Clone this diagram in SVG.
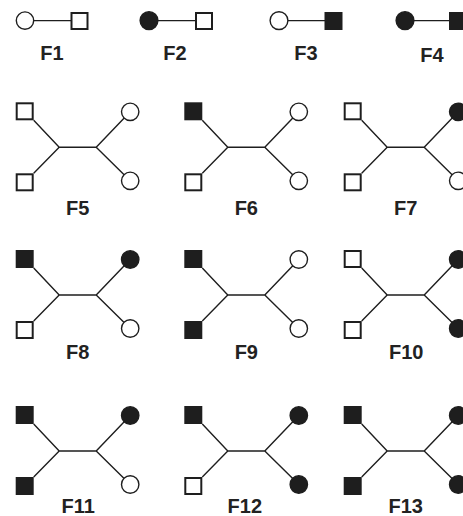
<svg xmlns="http://www.w3.org/2000/svg" width="463" height="516" viewBox="0 0 463 516">
<defs>
<style>
.ln{fill:none;stroke:#1e1e1e;stroke-width:1.4}
.os{fill:#fff;stroke:#1e1e1e;stroke-width:2}
.fs{fill:#1e1e1e;stroke:#1e1e1e;stroke-width:2}
.oc{fill:#fff;stroke:#1e1e1e;stroke-width:1.4}
.fc{fill:#1e1e1e;stroke:#1e1e1e;stroke-width:1.4}
.lbl{font-family:"Liberation Sans",Arial,Helvetica,sans-serif;font-weight:bold;font-size:20px;fill:#222;text-anchor:middle}
</style>
</defs>
<rect width="463" height="516" fill="#fff"/>

<g id="connectors">
  <path class="ln" d="M25,20.6H79.5M149,20.6H203.5M279,20.6H333.5M405,20.6H458"/>
  <path class="ln" d="M33.7,120.3L59.2,147.3L33.7,173.3M59.2,147.3H96.2M130.2,111.8L96.2,147.3L130.2,180.8"/>
  <path class="ln" d="M202.3,120.3L227.8,147.3L202.3,173.3M227.8,147.3H264.8M298.8,111.8L264.8,147.3L298.8,180.8"/>
  <path class="ln" d="M361.7,120.3L387.2,147.3L361.7,173.3M387.2,147.3H424.2M458.2,111.8L424.2,147.3L458.2,180.8"/>
  <path class="ln" d="M33.7,268L59.2,295L33.7,321M59.2,295H96.2M130.2,259.5L96.2,295L130.2,328.5"/>
  <path class="ln" d="M202.3,268L227.8,295L202.3,321M227.8,295H264.8M298.8,259.5L264.8,295L298.8,328.5"/>
  <path class="ln" d="M361.7,268L387.2,295L361.7,321M387.2,295H424.2M458.2,259.5L424.2,295L458.2,328.5"/>
  <path class="ln" d="M33.7,424L59.2,451L33.7,477M59.2,451H96.2M130.2,415.5L96.2,451L130.2,484.5"/>
  <path class="ln" d="M202.3,424L227.8,451L202.3,477M227.8,451H264.8M298.8,415.5L264.8,451L298.8,484.5"/>
  <path class="ln" d="M361.7,424L387.2,451L361.7,477M387.2,451H424.2M458.2,415.5L424.2,451L458.2,484.5"/>
</g>

<g id="F1">
  <circle class="oc" cx="25" cy="20.6" r="8.7"/>
  <rect class="os" x="71.5" y="13" width="16" height="16"/>
  <text class="lbl" x="52" y="60">F1</text>
</g>
<g id="F2">
  <circle class="fc" cx="149" cy="20.6" r="8.9"/>
  <rect class="os" x="196" y="13" width="16" height="16"/>
  <text class="lbl" x="175" y="60">F2</text>
</g>
<g id="F3">
  <circle class="oc" cx="279" cy="20.6" r="8.9"/>
  <rect class="fs" x="325.5" y="13" width="16" height="16"/>
  <text class="lbl" x="306" y="59.5">F3</text>
</g>
<g id="F4">
  <circle class="fc" cx="405" cy="20.6" r="8.9"/>
  <rect class="fs" x="450" y="13" width="16" height="16"/>
  <text class="lbl" x="432" y="61.5">F4</text>
</g>

<g id="F5" transform="translate(77.7,147.3)">
  <rect class="os" x="-61" y="-44" width="16" height="16"/>
  <rect class="os" x="-61" y="27" width="16" height="16"/>
  <circle class="oc" cx="52.5" cy="-35.5" r="8.7"/>
  <circle class="oc" cx="52.5" cy="33.5" r="8.7"/>
  <text class="lbl" x="0" y="67.7">F5</text>
</g>
<g id="F6" transform="translate(246.3,147.3)">
  <rect class="fs" x="-61" y="-44" width="16" height="16"/>
  <rect class="os" x="-61" y="27" width="16" height="16"/>
  <circle class="oc" cx="52.5" cy="-35.5" r="8.7"/>
  <circle class="oc" cx="52.5" cy="33.5" r="8.7"/>
  <text class="lbl" x="0" y="67.7">F6</text>
</g>
<g id="F7" transform="translate(405.7,147.3)">
  <rect class="os" x="-61" y="-44" width="16" height="16"/>
  <rect class="os" x="-61" y="27" width="16" height="16"/>
  <circle class="fc" cx="52.5" cy="-35.5" r="8.7"/>
  <circle class="oc" cx="52.5" cy="33.5" r="8.7"/>
  <text class="lbl" x="0" y="67.7">F7</text>
</g>

<g id="F8" transform="translate(77.7,295)">
  <rect class="fs" x="-61" y="-44" width="16" height="16"/>
  <rect class="os" x="-61" y="27" width="16" height="16"/>
  <circle class="fc" cx="52.5" cy="-35.5" r="8.7"/>
  <circle class="oc" cx="52.5" cy="33.5" r="8.7"/>
  <text class="lbl" x="0" y="64">F8</text>
</g>
<g id="F9" transform="translate(246.3,295)">
  <rect class="fs" x="-61" y="-44" width="16" height="16"/>
  <rect class="fs" x="-61" y="27" width="16" height="16"/>
  <circle class="oc" cx="52.5" cy="-35.5" r="8.7"/>
  <circle class="oc" cx="52.5" cy="33.5" r="8.7"/>
  <text class="lbl" x="0" y="64">F9</text>
</g>
<g id="F10" transform="translate(405.7,295)">
  <rect class="os" x="-61" y="-44" width="16" height="16"/>
  <rect class="os" x="-61" y="27" width="16" height="16"/>
  <circle class="fc" cx="52.5" cy="-35.5" r="8.7"/>
  <circle class="fc" cx="52.5" cy="33.5" r="8.7"/>
  <text class="lbl" x="0.5" y="64">F10</text>
</g>

<g id="F11" transform="translate(77.7,451)">
  <rect class="fs" x="-61" y="-44" width="16" height="16"/>
  <rect class="fs" x="-61" y="27" width="16" height="16"/>
  <circle class="fc" cx="52.5" cy="-35.5" r="8.7"/>
  <circle class="oc" cx="52.5" cy="33.5" r="8.7"/>
  <text class="lbl" x="0.5" y="62.3">F11</text>
</g>
<g id="F12" transform="translate(246.3,451)">
  <rect class="fs" x="-61" y="-44" width="16" height="16"/>
  <rect class="os" x="-61" y="27" width="16" height="16"/>
  <circle class="fc" cx="52.5" cy="-35.5" r="8.7"/>
  <circle class="fc" cx="52.5" cy="33.5" r="8.7"/>
  <text class="lbl" x="-1.5" y="62.3">F12</text>
</g>
<g id="F13" transform="translate(405.7,451)">
  <rect class="fs" x="-61" y="-44" width="16" height="16"/>
  <rect class="fs" x="-61" y="27" width="16" height="16"/>
  <circle class="fc" cx="52.5" cy="-35.5" r="8.7"/>
  <circle class="fc" cx="52.5" cy="33.5" r="8.7"/>
  <text class="lbl" x="0" y="62.3">F13</text>
</g>
</svg>
